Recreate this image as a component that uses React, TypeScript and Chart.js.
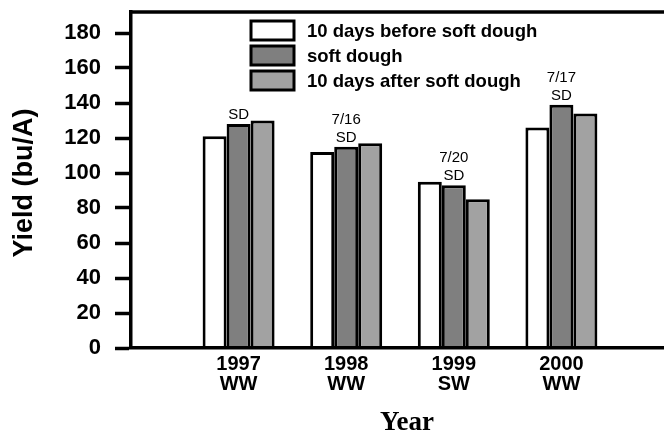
import React, { useEffect, useRef } from "react";
import { Chart, registerables } from "chart.js";

Chart.register(...registerables);

// ---- data ----
const years = ["1997", "1998", "1999", "2000"];
const wheatTypes = ["WW", "WW", "SW", "WW"];
const seriesNames = ["10 days before soft dough", "soft dough", "10 days after soft dough"];
const beforeSoftDough = [121, 112, 95, 126];
const softDough = [128, 115, 93, 139];
const afterSoftDough = [130, 117, 85, 134];
const sdDates = ["", "7/16", "7/20", "7/17"];
const sdLabel = "SD";
const yTickValues = [0, 20, 40, 60, 80, 100, 120, 140, 160, 180];
const yMin = 0;
const yMax = 192;
const xTitle = "Year";
const yTitle = "Yield (bu/A)";

const seriesColors = ["#ffffff", "#7f7f7f", "#a2a2a2"];

const SANS = '"Liberation Sans", Arial, Helvetica, sans-serif';
const SERIF = '"Liberation Serif", "Times New Roman", Times, serif';

const pad = (arr: number[]) => [null, ...arr, null];

const decorPlugin = {
  id: "decor",
  afterDatasetsDraw(chart: any) {
    const { ctx, chartArea } = chart;
    ctx.save();
    // top frame line
    ctx.strokeStyle = "#000";
    ctx.lineWidth = 3.5;
    ctx.beginPath();
    ctx.moveTo(chartArea.left - 1.75, chartArea.top);
    ctx.lineTo(chartArea.right, chartArea.top);
    ctx.stroke();

    // SD annotations above soft dough bars
    const meta = chart.getDatasetMeta(1);
    ctx.fillStyle = "#000";
    ctx.font = `15px ${SANS}`;
    ctx.textAlign = "center";
    ctx.textBaseline = "middle";
    years.forEach((_, i) => {
      const el = meta.data[i + 1];
      if (!el) return;
      ctx.fillText(sdLabel, el.x, el.y - 9);
      if (sdDates[i]) ctx.fillText(sdDates[i], el.x, el.y - 27);
    });

    // legend
    const boxX = 251;
    const boxW = 43;
    const boxH = 19;
    const tops = [21, 46, 71];
    ctx.font = `bold 18.5px ${SANS}`;
    ctx.textAlign = "left";
    seriesNames.forEach((name, i) => {
      const t = tops[i];
      ctx.beginPath();
      ctx.rect(boxX, t, boxW, boxH);
      ctx.fillStyle = seriesColors[i];
      ctx.fill();
      ctx.lineWidth = 3;
      ctx.strokeStyle = "#000";
      ctx.stroke();
      ctx.fillStyle = "#000";
      ctx.fillText(name, 307, t + boxH / 2 + 1);
    });

    // axis titles
    ctx.font = `bold 27px ${SANS}`;
    ctx.textAlign = "center";
    ctx.textBaseline = "middle";
    ctx.save();
    ctx.translate(25, 183);
    ctx.rotate(-Math.PI / 2);
    ctx.fillText(yTitle, 0, 0);
    ctx.restore();

    ctx.font = `bold 27px ${SERIF}`;
    ctx.textBaseline = "alphabetic";
    ctx.fillText(xTitle, 407, 430);
    ctx.restore();
  },
};

export default function App() {
  const ref = useRef<HTMLCanvasElement>(null);
  useEffect(() => {
    if (!ref.current) return;
    const labels: any[] = ["", ...years.map((y, i) => [y, wheatTypes[i]]), ""];
    const chart = new Chart(ref.current, {
      type: "bar",
      data: {
        labels,
        datasets: [beforeSoftDough, softDough, afterSoftDough].map((d, i) => ({
          label: seriesNames[i],
          data: pad(d) as any,
          backgroundColor: seriesColors[i],
          borderColor: "#000",
          borderWidth: 3,
          borderSkipped: "start" as const,
          categoryPercentage: 0.669,
          barPercentage: 1.0,
        })),
      },
      options: {
        animation: false,
        responsive: false,
        devicePixelRatio: 1,
        layout: { padding: { top: 12, left: 0, right: 0, bottom: 0 } },
        plugins: {
          legend: { display: false },
          tooltip: { enabled: false },
        },
        scales: {
          x: {
            offset: false,
            grid: { display: false, drawTicks: false },
            border: { display: true, color: "#000", width: 3.5, z: 1 },
            ticks: {
              autoSkip: false,
              maxRotation: 0,
              minRotation: 0,
              padding: 6,
              color: "#000",
              font: { family: SANS, size: 20, weight: "bold", lineHeight: 1 },
            },
            afterFit: (scale: any) => {
              scale.height = 87;
              scale.paddingLeft = 0;
              scale.paddingRight = 0;
            },
          },
          y: {
            min: yMin,
            max: yMax,
            grid: {
              drawOnChartArea: false,
              drawTicks: true,
              tickLength: 16,
              tickWidth: 3.5,
              tickColor: "#000",
              color: "#000",
            },
            border: { display: true, color: "#000", width: 3.5, z: 1 },
            ticks: {
              padding: 14,
              color: "#000",
              font: { family: SANS, size: 22, weight: "bold", lineHeight: 1 },
            },
            afterBuildTicks: (scale: any) => {
              scale.ticks = yTickValues.map((v) => ({ value: v }));
            },
            afterFit: (scale: any) => {
              scale.width = 131;
              scale.paddingTop = 0;
              scale.paddingBottom = 0;
            },
          },
        },
      },
      plugins: [decorPlugin],
    });
    return () => chart.destroy();
  }, []);

  return (
    <div
      style={{
        position: "fixed",
        left: 0,
        top: 0,
        width: 664,
        height: 435,
        overflow: "hidden",
        background: "#fff",
      }}
    >
      <canvas ref={ref} width={669} height={435} style={{ display: "block" }} />
    </div>
  );
}
